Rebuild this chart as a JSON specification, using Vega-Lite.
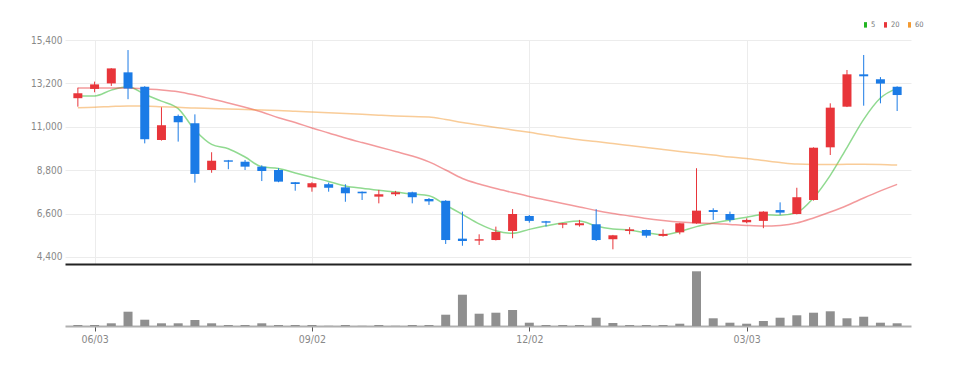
{
  "$schema": "https://vega.github.io/schema/vega-lite/v6.json",
  "padding": {"left": 1, "top": 20, "right": 5, "bottom": 5},
  "background": "white",
  "config": {"view": {"stroke": null}, "font": "Liberation Sans Narrow, Arial Narrow, DejaVu Sans Condensed, Roboto, sans-serif"},
  "spacing": 2,
  "datasets": {
    "w": [
      {"date": "2024-05-27", "open": 12450, "high": 12980, "low": 12020, "close": 12700, "vol": 10000, "MA5": 12560, "MA20": 12970, "MA60": 11970},
      {"date": "2024-06-03", "open": 12920, "high": 13290, "low": 12750, "close": 13150, "vol": 10000, "MA5": 12560, "MA20": 12970, "MA60": 11990},
      {"date": "2024-06-10", "open": 13200, "high": 13970, "low": 13070, "close": 13960, "vol": 27000, "MA5": 12860, "MA20": 12970, "MA60": 12030},
      {"date": "2024-06-17", "open": 13760, "high": 14890, "low": 12400, "close": 12940, "vol": 143000, "MA5": 13030, "MA20": 12970, "MA60": 12060},
      {"date": "2024-06-24", "open": 13030, "high": 13060, "low": 10160, "close": 10370, "vol": 63000, "MA5": 12650, "MA20": 12920, "MA60": 12050},
      {"date": "2024-07-01", "open": 10330, "high": 11990, "low": 10300, "close": 11080, "vol": 27000, "MA5": 12300, "MA20": 12870, "MA60": 12020},
      {"date": "2024-07-08", "open": 11550, "high": 11620, "low": 10250, "close": 11230, "vol": 27000, "MA5": 11920, "MA20": 12780, "MA60": 11990},
      {"date": "2024-07-15", "open": 11180, "high": 11630, "low": 8170, "close": 8610, "vol": 60000, "MA5": 10840, "MA20": 12610, "MA60": 11950},
      {"date": "2024-07-22", "open": 8810, "high": 9710, "low": 8670, "close": 9280, "vol": 27000, "MA5": 10110, "MA20": 12410, "MA60": 11930},
      {"date": "2024-07-29", "open": 9300, "high": 9320, "low": 8850, "close": 9230, "vol": 10000, "MA5": 9890, "MA20": 12210, "MA60": 11900},
      {"date": "2024-08-05", "open": 9230, "high": 9320, "low": 8810, "close": 8980, "vol": 10000, "MA5": 9470, "MA20": 11990, "MA60": 11880},
      {"date": "2024-08-12", "open": 8980, "high": 9050, "low": 8250, "close": 8760, "vol": 27000, "MA5": 8970, "MA20": 11750, "MA60": 11850},
      {"date": "2024-08-19", "open": 8810, "high": 8900, "low": 8190, "close": 8220, "vol": 10000, "MA5": 8890, "MA20": 11460, "MA60": 11830},
      {"date": "2024-08-26", "open": 8190, "high": 8200, "low": 7760, "close": 8100, "vol": 10000, "MA5": 8660, "MA20": 11220, "MA60": 11790},
      {"date": "2024-09-02", "open": 7930, "high": 8190, "low": 7710, "close": 8140, "vol": 10000, "MA5": 8440, "MA20": 10940, "MA60": 11750},
      {"date": "2024-09-09", "open": 8090, "high": 8170, "low": 7710, "close": 7910, "vol": 2000, "MA5": 8230, "MA20": 10690, "MA60": 11710},
      {"date": "2024-09-16", "open": 7930, "high": 8090, "low": 7200, "close": 7630, "vol": 10000, "MA5": 8000, "MA20": 10430, "MA60": 11670},
      {"date": "2024-09-23", "open": 7710, "high": 7720, "low": 7290, "close": 7630, "vol": 2000, "MA5": 7880, "MA20": 10200, "MA60": 11630},
      {"date": "2024-09-30", "open": 7460, "high": 7800, "low": 7120, "close": 7580, "vol": 10000, "MA5": 7780, "MA20": 9980, "MA60": 11590},
      {"date": "2024-10-07", "open": 7580, "high": 7750, "low": 7490, "close": 7680, "vol": 2000, "MA5": 7690, "MA20": 9750, "MA60": 11550},
      {"date": "2024-10-14", "open": 7680, "high": 7710, "low": 7120, "close": 7430, "vol": 10000, "MA5": 7590, "MA20": 9520, "MA60": 11520},
      {"date": "2024-10-21", "open": 7340, "high": 7390, "low": 7040, "close": 7220, "vol": 10000, "MA5": 7510, "MA20": 9220, "MA60": 11500},
      {"date": "2024-10-28", "open": 7250, "high": 7280, "low": 5060, "close": 5260, "vol": 113000, "MA5": 7030, "MA20": 8810, "MA60": 11370},
      {"date": "2024-11-04", "open": 5330, "high": 6700, "low": 4970, "close": 5210, "vol": 313000, "MA5": 6560, "MA20": 8380, "MA60": 11220},
      {"date": "2024-11-11", "open": 5230, "high": 5550, "low": 5010, "close": 5300, "vol": 123000, "MA5": 6080, "MA20": 8100, "MA60": 11090},
      {"date": "2024-11-18", "open": 5260, "high": 5940, "low": 5240, "close": 5670, "vol": 133000, "MA5": 5730, "MA20": 7870, "MA60": 10970},
      {"date": "2024-11-25", "open": 5720, "high": 6830, "low": 5350, "close": 6580, "vol": 160000, "MA5": 5600, "MA20": 7670, "MA60": 10840},
      {"date": "2024-12-02", "open": 6480, "high": 6530, "low": 6140, "close": 6230, "vol": 33000, "MA5": 5800, "MA20": 7470, "MA60": 10720},
      {"date": "2024-12-09", "open": 6210, "high": 6230, "low": 5940, "close": 6140, "vol": 10000, "MA5": 5980, "MA20": 7290, "MA60": 10580},
      {"date": "2024-12-16", "open": 6040, "high": 6120, "low": 5860, "close": 6110, "vol": 10000, "MA5": 6140, "MA20": 7110, "MA60": 10460},
      {"date": "2024-12-23", "open": 6010, "high": 6280, "low": 5940, "close": 6110, "vol": 10000, "MA5": 6230, "MA20": 6940, "MA60": 10340},
      {"date": "2024-12-30", "open": 6060, "high": 6820, "low": 5210, "close": 5260, "vol": 83000, "MA5": 5970, "MA20": 6760, "MA60": 10260},
      {"date": "2025-01-06", "open": 5300, "high": 5520, "low": 4790, "close": 5500, "vol": 30000, "MA5": 5820, "MA20": 6610, "MA60": 10150},
      {"date": "2025-01-13", "open": 5720, "high": 5910, "low": 5550, "close": 5800, "vol": 10000, "MA5": 5760, "MA20": 6480, "MA60": 10050},
      {"date": "2025-01-20", "open": 5770, "high": 5790, "low": 5380, "close": 5480, "vol": 10000, "MA5": 5630, "MA20": 6350, "MA60": 9950},
      {"date": "2025-01-27", "open": 5470, "high": 5800, "low": 5430, "close": 5570, "vol": 10000, "MA5": 5520, "MA20": 6250, "MA60": 9850},
      {"date": "2025-02-03", "open": 5650, "high": 6130, "low": 5550, "close": 6110, "vol": 23000, "MA5": 5690, "MA20": 6170, "MA60": 9750},
      {"date": "2025-02-10", "open": 6110, "high": 8900, "low": 6090, "close": 6750, "vol": 547000, "MA5": 5940, "MA20": 6120, "MA60": 9660},
      {"date": "2025-02-17", "open": 6780, "high": 6870, "low": 6280, "close": 6680, "vol": 77000, "MA5": 6120, "MA20": 6100, "MA60": 9570},
      {"date": "2025-02-24", "open": 6580, "high": 6700, "low": 6160, "close": 6280, "vol": 33000, "MA5": 6280, "MA20": 6050, "MA60": 9470},
      {"date": "2025-03-03", "open": 6160, "high": 6360, "low": 6110, "close": 6280, "vol": 23000, "MA5": 6420, "MA20": 6000, "MA60": 9390},
      {"date": "2025-03-10", "open": 6230, "high": 6720, "low": 5860, "close": 6700, "vol": 50000, "MA5": 6540, "MA20": 5970, "MA60": 9290},
      {"date": "2025-03-17", "open": 6780, "high": 7170, "low": 6530, "close": 6650, "vol": 83000, "MA5": 6520, "MA20": 6000, "MA60": 9190},
      {"date": "2025-03-24", "open": 6580, "high": 7910, "low": 6560, "close": 7430, "vol": 107000, "MA5": 6660, "MA20": 6120, "MA60": 9110},
      {"date": "2025-03-31", "open": 7290, "high": 9960, "low": 7260, "close": 9940, "vol": 133000, "MA5": 7400, "MA20": 6380, "MA60": 9090},
      {"date": "2025-04-07", "open": 9960, "high": 12190, "low": 9570, "close": 11970, "vol": 147000, "MA5": 8540, "MA20": 6680, "MA60": 9090},
      {"date": "2025-04-14", "open": 12020, "high": 13880, "low": 12000, "close": 13660, "vol": 77000, "MA5": 9950, "MA20": 7010, "MA60": 9100},
      {"date": "2025-04-21", "open": 13660, "high": 14640, "low": 12070, "close": 13560, "vol": 93000, "MA5": 11380, "MA20": 7390, "MA60": 9100},
      {"date": "2025-04-28", "open": 13410, "high": 13520, "low": 12190, "close": 13190, "vol": 33000, "MA5": 12460, "MA20": 7750, "MA60": 9090},
      {"date": "2025-05-05", "open": 13030, "high": 13050, "low": 11800, "close": 12610, "vol": 27000, "MA5": 12950, "MA20": 8080, "MA60": 9060}
    ]
  },
  "vconcat": [
    {
      "width": 846,
      "height": 224,
      "data": {"name": "w"},
      "encoding": {
        "x": {
          "field": "date", "type": "temporal",
          "scale": {"type": "utc", "domain": [{"year": 2024, "month": 5, "date": 23, "hours": 17, "utc": true}, {"year": 2025, "month": 5, "date": 8, "hours": 17, "utc": true}]},
          "axis": {
            "title": null, "labels": false, "ticks": false, "domain": true, "domainColor": "#222222", "domainWidth": 2,
            "grid": true, "gridColor": "#ececec", "gridWidth": 1,
            "values": [{"year": 2024, "month": 6, "date": 3, "utc": true}, {"year": 2024, "month": 9, "date": 2, "utc": true}, {"year": 2024, "month": 12, "date": 2, "utc": true}, {"year": 2025, "month": 3, "date": 3, "utc": true}]
          }
        }
      },
      "layer": [
        {
          "transform": [{"fold": ["MA5", "MA20", "MA60"], "as": ["ma", "val"]}],
          "mark": {"type": "line", "interpolate": "monotone", "strokeWidth": 1.5, "opacity": 0.5},
          "encoding": {
            "y": {
              "field": "val", "type": "quantitative",
              "scale": {"domain": [4045, 15400], "nice": false, "zero": false},
              "axis": {
                "title": null, "values": [4400, 6600, 8800, 11000, 13200, 15400], "format": ",d",
                "domain": false, "ticks": false, "tickSize": 0, "labelPadding": 3,
                "labelColor": "#888888", "labelFontSize": 10, "grid": true, "gridColor": "#ececec", "gridWidth": 1,
                "minExtent": 64, "maxExtent": 64
              }
            },
            "color": {
              "field": "ma", "type": "nominal",
              "scale": {"domain": ["MA5", "MA20", "MA60"], "range": ["#22b522", "#e8353a", "#f39a32"]},
              "legend": {
                "title": null, "orient": "none", "legendX": 796, "legendY": -20, "direction": "horizontal",
                "symbolType": "M0,-1L0,1", "symbolSize": 30, "symbolStrokeWidth": 3, "symbolOpacity": 1,
                "labelFontSize": 7.5, "labelColor": "#777777", "labelOffset": 1, "columnPadding": 3, "padding": 0,
                "labelExpr": "replace(datum.label, 'MA', '')"
              }
            }
          }
        },
        {
          "mark": {"type": "rule", "strokeWidth": 1},
          "encoding": {
            "y": {"field": "low", "type": "quantitative", "scale": {"domain": [4045, 15400], "nice": false, "zero": false}, "axis": {"title": null}},
            "y2": {"field": "high"},
            "color": {"condition": {"test": "datum.close >= datum.open", "value": "#e8353a"}, "value": "#1b7be6"}
          }
        },
        {
          "mark": {"type": "bar", "size": 9},
          "encoding": {
            "y": {"field": "open", "type": "quantitative", "scale": {"domain": [4045, 15400], "nice": false, "zero": false}, "axis": {"title": null}},
            "y2": {"field": "close"},
            "color": {"condition": {"test": "datum.close >= datum.open", "value": "#e8353a"}, "value": "#1b7be6"}
          }
        }
      ]
    },
    {
      "width": 846,
      "height": 60,
      "data": {"name": "w"},
      "mark": {"type": "bar", "size": 9, "color": "#8f8f8f"},
      "encoding": {
        "x": {
          "field": "date", "type": "temporal",
          "scale": {"type": "utc", "domain": [{"year": 2024, "month": 5, "date": 23, "hours": 17, "utc": true}, {"year": 2025, "month": 5, "date": 8, "hours": 17, "utc": true}]},
          "axis": {
            "title": null, "grid": false, "domain": true, "domainColor": "#b0b0b0", "domainWidth": 2,
            "ticks": true, "tickColor": "#555555", "tickSize": 5, "labelPadding": 3,
            "labelColor": "#888888", "labelFontSize": 10.5,
            "labelExpr": "utcFormat(datum.value, '%m/%d')",
            "values": [{"year": 2024, "month": 6, "date": 3, "utc": true}, {"year": 2024, "month": 9, "date": 2, "utc": true}, {"year": 2024, "month": 12, "date": 2, "utc": true}, {"year": 2025, "month": 3, "date": 3, "utc": true}]
          }
        },
        "y": {"field": "vol", "type": "quantitative", "scale": {"domain": [0, 600000], "nice": false}, "axis": null}
      }
    }
  ]
}
